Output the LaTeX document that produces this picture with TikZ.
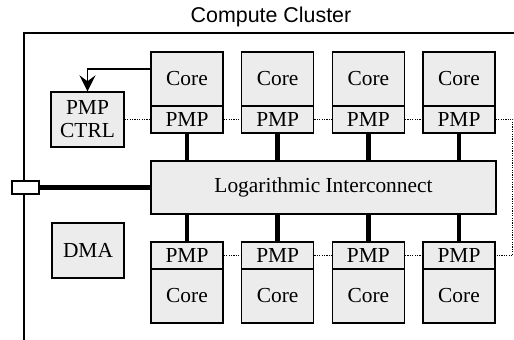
\documentclass[tikz,border=0pt]{standalone}
\usepackage{fontspec}
\setmainfont{Liberation Serif}
\newfontfamily\titlefont{Liberation Sans}
\usetikzlibrary{arrows.meta}
\usetikzlibrary{calc}

\begin{document}
\begin{tikzpicture}[x=0.5pt, y=-0.5pt,
    unit/.style={draw=black, fill=gray!15, line width=0.7pt, inner sep=0pt, font=\fontsize{10.7}{11.5}\selectfont},
    corebox/.style={unit, minimum width=36pt, minimum height=27pt},
    pmpbox/.style={unit, minimum width=36pt, minimum height=13.5pt},
    bus/.style={line width=2.2pt},
    chain/.style={line width=0.7pt, dash pattern=on 0.6pt off 0.6pt}]

\useasboundingbox (0, 0) rectangle (514, 340);

% cluster frame, open to the right and below
\draw[line width=0.6pt] (514, 33) -- (24, 33) -- (24, 340);
\node[font=\titlefont\fontsize{10.7}{12}\selectfont] (title) at (271, 17) {Compute Cluster};

\node[unit, fill=white, minimum width=13.5pt, minimum height=6.5pt] (port) at (25.5, 187.5) {};

\node[unit, minimum width=172.5pt, minimum height=26.5pt] (IC) at (323.5, 187.5) {Logarithmic Interconnect};
\node[unit, minimum width=36.5pt, minimum height=27.5pt, align=center] (CTRL) at (87.5, 119.5) {PMP\\CTRL};
\node[unit, minimum width=36pt, minimum height=27.5pt] (DMA) at (88, 250.5) {DMA};

\foreach \i in {1,...,4} {
  \node[corebox] (C\i) at ({187+(\i-1)*90.67}, 79) {Core};
  \node[pmpbox] (P\i) at ({187+(\i-1)*90.67}, 119.5) {PMP};
  \node[pmpbox] (PB\i) at ({187+(\i-1)*90.67}, 255.5) {PMP};
  \node[corebox] (CB\i) at ({187+(\i-1)*90.67}, 296) {Core};
  \draw[bus] (P\i.south) -- (P\i.south |- IC.north);
  \draw[bus] (PB\i.north) -- (PB\i.north |- IC.south);
}

\draw[bus] (port.east) -- (port.east -| IC.west);

\draw[line width=0.7pt, -{Stealth[length=8pt, width=8pt, inset=3pt]}] ([yshift=5pt]C1.west) -| (CTRL.north);

\draw[chain] (CTRL) -- (P1);
\draw[chain] (P1) -- (P2);
\draw[chain] (P2) -- (P3);
\draw[chain] (P3) -- (P4);
\draw[chain] (P4.east) -- ++(17, 0) |- (PB4.east);
\draw[chain] (PB1) -- (PB2);
\draw[chain] (PB2) -- (PB3);
\draw[chain] (PB3) -- (PB4);

\end{tikzpicture}
\end{document}
